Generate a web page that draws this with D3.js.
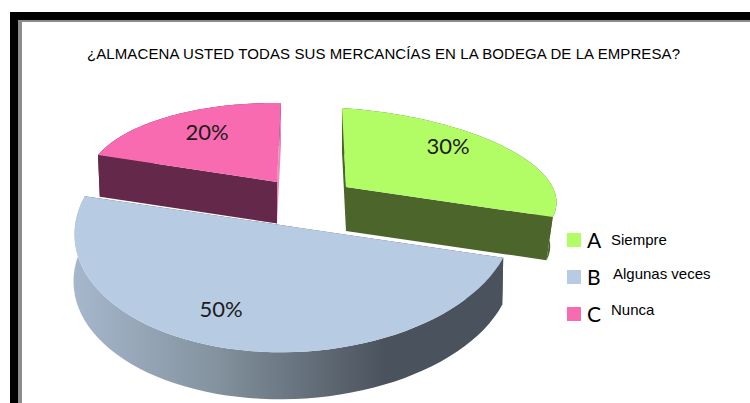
<!DOCTYPE html>
<html>
<head>
<meta charset="utf-8">
<script src="https://cdn.jsdelivr.net/npm/d3@7/dist/d3.min.js"></script>
<style>
  html, body { margin: 0; padding: 0; background: #fff; }
  svg { display: block; }
</style>
</head>
<body>
<svg id="chart" width="750" height="403"></svg>
<script>
// Survey answers
const titleText = "¿ALMACENA USTED TODAS SUS MERCANCÍAS EN LA BODEGA DE LA EMPRESA?";
const categories = ["A", "B", "C"];
const answers = ["Siempre", "Algunas veces", "Nunca"];
const values = [30, 50, 20];

// Surface colours
const topColors = ["#b2fc66", "#b7cbe3", "#f86bb0"];
const sideColors = ["#4c652a", "url(#bSide)", "#63284a"];
const endFaceColors = ["#4c652a", "#4a525d", "#e68fbc"];

// Projection of each exploded wedge: apex, image of the unit x and y axes,
// extrusion vector, shrink of the lower rim towards the apex, and the
// foreshortening factor applied to the wedge's sweep.
const wedges = [
  { c: [346, 187], X: [210.5, 14],  Y: [-4, -79],     dep: [0, 44],   s: 0.97, k: 102 / 108 },
  { c: [294, 227], X: [219.5, -8.2], Y: [-1.5, -125],  dep: [-1, 47],  s: 1.0,  k: 1 },
  { c: [277, 182], X: [189.5, 2.7], Y: [4, -79],      dep: [0, 41.5], s: 0.99, k: 1 }
];
const labelAt = [[448, 145], [221, 308], [207, 131]];
const legendY = [240, 277, 314];

const svg = d3.select("#chart");

// Horizontal shading along the rim of the large wedge
const grad = svg.append("defs").append("linearGradient")
  .attr("id", "bSide").attr("gradientUnits", "userSpaceOnUse")
  .attr("x1", 75).attr("x2", 385).attr("y1", 0).attr("y2", 0);
grad.append("stop").attr("offset", 0).attr("stop-color", "#a6b7cd");
grad.append("stop").attr("offset", 0.45).attr("stop-color", "#84939f");
grad.append("stop").attr("offset", 1).attr("stop-color", "#4a525d");

// Page frame
svg.append("rect").attr("x", 10).attr("y", 12).attr("width", 740).attr("height", 391).attr("fill", "#000");
svg.append("rect").attr("x", 18).attr("y", 20).attr("width", 732).attr("height", 383).attr("fill", "#8c8c8c");
svg.append("rect").attr("x", 22).attr("y", 22).attr("width", 728).attr("height", 381).attr("fill", "#fff");

// Title
svg.append("text").text(titleText)
  .attr("x", 87).attr("y", 58.5)
  .attr("textLength", 593).attr("lengthAdjust", "spacing")
  .attr("font-family", "'Liberation Sans', Arial, sans-serif")
  .attr("font-size", 15).attr("fill", "#000");

// Wedge angles, clockwise from the top
const arcs = d3.pie().sort(null).startAngle(0).endAngle(2 * Math.PI)(values);

const line = d3.line().curve(d3.curveLinear);
const project = (w, a) => [
  w.c[0] + Math.sin(a) * w.X[0] + Math.cos(a) * w.Y[0],
  w.c[1] + Math.sin(a) * w.X[1] + Math.cos(a) * w.Y[1]
];
const lower = (w, p) => [
  w.c[0] + w.dep[0] + w.s * (p[0] - w.c[0]),
  w.c[1] + w.dep[1] + w.s * (p[1] - w.c[1])
];

const drawWedge = i => {
  const w = wedges[i], d = arcs[i];
  const steps = d3.range(0, 61).map(n => d.startAngle * w.k + (d.endAngle - d.startAngle) * w.k * n / 60);
  const rim = steps.map(a => project(w, a));
  const g = svg.append("g");

  // Outer wall
  g.append("path")
    .attr("d", line(rim.concat(rim.map(p => lower(w, p)).reverse())) + "Z")
    .attr("fill", sideColors[i]);

  // The two cut faces
  const startFace = [w.c, rim[0], lower(w, rim[0]), lower(w, w.c)];
  const endFace = [w.c, rim[60], lower(w, rim[60]), lower(w, w.c)];
  g.append("path").attr("d", line(endFace) + "Z").attr("fill", endFaceColors[i]);
  g.append("path").attr("d", line(startFace) + "Z").attr("fill", sideColors[i]);

  // Upper surface
  g.append("path")
    .attr("d", line([w.c].concat(rim)) + "Z")
    .attr("fill", topColors[i]);
};

// Painter's order: large wedge first, then the two behind it
[1, 2, 0].forEach(drawWedge);

// Percentage labels
svg.selectAll("text.pct").data(values).join("text")
  .attr("class", "pct")
  .text(v => v + "%")
  .attr("x", (v, i) => labelAt[i][0])
  .attr("y", (v, i) => labelAt[i][1])
  .attr("text-anchor", "middle").attr("dominant-baseline", "central")
  .attr("font-family", "Lato, sans-serif")
  .attr("font-size", 22).attr("fill", "#1c1c1c");

// Legend
const legend = svg.selectAll("g.key").data(categories).join("g").attr("class", "key")
  .attr("transform", (c, i) => `translate(0,${legendY[i]})`);
legend.append("rect")
  .attr("x", 567).attr("y", -7).attr("width", 14).attr("height", 14)
  .attr("fill", (c, i) => topColors[i]);
legend.append("text").text(c => c)
  .attr("x", 587).attr("y", 8)
  .attr("font-family", "Lato, sans-serif")
  .attr("font-size", 21).attr("fill", "#000");
legend.append("text").text((c, i) => answers[i])
  .attr("x", (c, i) => i === 1 ? 613 : 611)
  .attr("y", (c, i) => [5, 2, 1][i])
  .attr("font-family", "'Liberation Sans', Arial, sans-serif")
  .attr("font-size", 15).attr("fill", "#000");
</script>
</body>
</html>
